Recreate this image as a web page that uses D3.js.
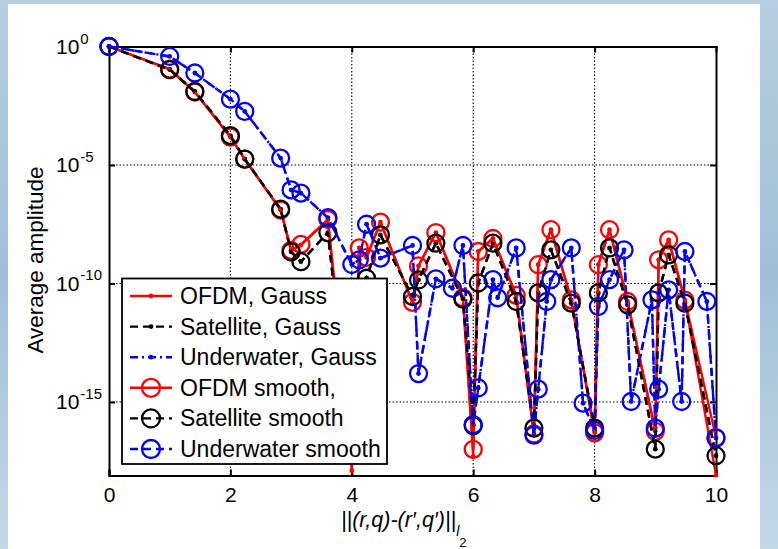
<!DOCTYPE html>
<html><head><meta charset="utf-8">
<script src="https://cdn.jsdelivr.net/npm/d3@7"></script>
<style>body{margin:0;padding:0;overflow:hidden;background:#fff}</style>
</head><body>
<script>
// ---------- DATA ----------
const xTicks = [0, 2, 4, 6, 8, 10];
const yTicks = [1, 1e-5, 1e-10, 1e-15];
const yTickExp = ["0", "-5", "-10", "-15"];
const legendLabels = ["OFDM, Gauss", "Satellite, Gauss", "Underwater, Gauss", "OFDM smooth,", "Satellite smooth", "Underwater smooth"];

// distances used by OFDM / Satellite curves
const xRB = [0, 1, 1.414, 2, 2.236, 2.828, 3, 3.162, 3.606, 4, 4.123, 4.243, 4.472, 5, 5.099, 5.385, 5.831, 6, 6.083, 6.325, 6.708, 7, 7.071, 7.280, 7.616, 8, 8.062, 8.246, 8.544, 9, 9.055, 9.220, 9.487, 10];
// distances used by Underwater curves
const xUW = [0, 1, 1.414, 2, 2.236, 2.828, 3, 3.162, 3.606, 4, 4.123, 4.243, 4.472, 5, 5.099, 5.385, 5.657, 5.831, 6, 6.083, 6.325, 6.403, 6.708, 7, 7.071, 7.211, 7.280, 7.616, 7.810, 8, 8.062, 8.246, 8.485, 8.602, 8.944, 9, 9.055, 9.220, 9.434, 9.487, 9.849, 10];

const ofdmGauss = [1, 1.12e-1, 1.2e-2, 1.51e-4, 1.78e-5, 1.26e-7, 2.5e-9, 4.2e-9, 5.0e-8, 1.26e-18, 3.16e-9, 1.26e-9, 3.9e-8, 1.6e-11, 5.5e-10, 1.41e-8, 2.5e-11, 5e-18, 2.24e-9, 7.9e-9, 3.16e-11, 4.47e-17, 6.2e-10, 1.86e-8, 2.04e-11, 5e-17, 6.2e-10, 1.86e-8, 1.74e-11, 5.75e-17, 1e-9, 6.9e-9, 2.0e-11, 8.0e-19];
const satGauss = [1, 1.05e-1, 1.26e-2, 1.74e-4, 1.78e-5, 1.38e-7, 2.14e-9, 8.3e-10, 1.41e-8, 1e-17, 6.3e-11, 1.66e-10, 1.12e-8, 2.82e-11, 1.41e-10, 5e-9, 2.19e-11, 1e-16, 1.05e-10, 5e-9, 1.74e-11, 7.9e-17, 4e-11, 2.63e-9, 1.48e-11, 7.9e-17, 4e-11, 3.16e-9, 1.26e-11, 1.02e-17, 4e-11, 1.62e-9, 1.48e-11, 5.4e-18];
const uwGauss = [1, 3.8e-1, 7.6e-2, 6.0e-3, 1.82e-3, 1.95e-5, 8.9e-7, 6.5e-7, 6.0e-8, 6.3e-10, 1e-9, 3.16e-8, 1.17e-9, 4e-9, 1.58e-14, 1.58e-10, 6.3e-11, 4e-9, 1.1e-16, 3.9e-15, 1.45e-10, 2.5e-11, 3.16e-9, 4e-17, 3.47e-15, 1.74e-11, 1.45e-10, 3.16e-9, 8.9e-16, 6.3e-17, 1.07e-11, 1.45e-10, 2.63e-9, 1.05e-15, 2.04e-11, 7.9e-17, 3.47e-15, 5.4e-11, 1.05e-15, 2.24e-9, 1.74e-11, 3.0e-17];

const ofdmSmooth = [1, 1.12e-1, 1.2e-2, 1.51e-4, 1.78e-5, 1.26e-7, 2.5e-9, 4.47e-9, 5.0e-8, 1.6e-17, 3.16e-9, 1.26e-9, 3.9e-8, 1.6e-11, 5.5e-10, 1.41e-8, 2.5e-11, 1e-17, 2.24e-9, 7.9e-9, 3.16e-11, 4.47e-17, 6.2e-10, 1.86e-8, 2.04e-11, 5e-17, 6.2e-10, 1.86e-8, 1.74e-11, 5.75e-17, 1e-9, 6.9e-9, 2.0e-11, 3.16e-17];
const satSmooth = [1, 1.05e-1, 1.26e-2, 1.74e-4, 1.78e-5, 1.38e-7, 2.14e-9, 8.3e-10, 1.41e-8, 1e-17, 6.3e-11, 1.66e-10, 1.12e-8, 2.82e-11, 1.41e-10, 5e-9, 2.19e-11, 1e-16, 1.05e-10, 5e-9, 1.74e-11, 7.9e-17, 4e-11, 2.63e-9, 1.48e-11, 7.9e-17, 4e-11, 3.16e-9, 1.26e-11, 1.02e-17, 4e-11, 1.62e-9, 1.48e-11, 5.4e-18];
const uwSmooth = [1, 3.8e-1, 7.6e-2, 6.0e-3, 1.82e-3, 1.95e-5, 8.9e-7, 6.5e-7, 6.0e-8, 6.3e-10, 1e-9, 3.16e-8, 1.17e-9, 4e-9, 1.58e-14, 1.58e-10, 6.3e-11, 4e-9, 1.1e-16, 3.9e-15, 1.45e-10, 2.5e-11, 3.16e-9, 4e-17, 3.47e-15, 1.74e-11, 1.45e-10, 3.16e-9, 8.9e-16, 6.3e-17, 1.07e-11, 1.45e-10, 2.63e-9, 1.05e-15, 2.04e-11, 7.9e-17, 3.47e-15, 5.4e-11, 1.05e-15, 2.24e-9, 1.74e-11, 3.0e-17];

// ---------- STYLE / LAYOUT ----------
const W = 778, H = 549;
const M = {left: 109, right: 716, top: 46.5, bottom: 475.5};
const RED = "#ff0000", BLACK = "#000000", BLUE = "#0000ff";
const series = [
  {name: legendLabels[0], x: xRB, y: ofdmGauss, color: RED, dash: null, marker: "dot"},
  {name: legendLabels[1], x: xRB, y: satGauss, color: BLACK, dash: "8,5", marker: "dot"},
  {name: legendLabels[2], x: xUW, y: uwGauss, color: BLUE, dash: "8,4,2,4", marker: "dot"},
  {name: legendLabels[3], x: xRB, y: ofdmSmooth, color: RED, dash: null, marker: "circle"},
  {name: legendLabels[4], x: xRB, y: satSmooth, color: BLACK, dash: "8,5", marker: "circle"},
  {name: legendLabels[5], x: xUW, y: uwSmooth, color: BLUE, dash: "8,5", marker: "circle"}
];

const svg = d3.select("body").append("svg").attr("width", W).attr("height", H)
  .style("font-family", "'Liberation Sans', Arial, Helvetica, sans-serif");

// slide background
const defs = svg.append("defs");
const g1 = defs.append("linearGradient").attr("id", "bg").attr("x1", 0).attr("y1", 0).attr("x2", 0).attr("y2", 1);
g1.append("stop").attr("offset", "0%").attr("stop-color", "#b7cde0");
g1.append("stop").attr("offset", "50%").attr("stop-color", "#a3bfd8");
g1.append("stop").attr("offset", "100%").attr("stop-color", "#c3d6e6");
svg.append("rect").attr("width", W).attr("height", H).attr("fill", "url(#bg)");
svg.append("rect").attr("x", 8).attr("y", 4).attr("width", 752).attr("height", H - 4).attr("fill", "#ffffff");

defs.append("clipPath").attr("id", "plotclip").append("rect")
  .attr("x", M.left - 10).attr("y", M.top - 10).attr("width", M.right - M.left + 20).attr("height", M.bottom - M.top + 12);

const x = d3.scaleLinear().domain([0, 10]).range([M.left, M.right]);
const y = d3.scaleLog().domain([7.9e-19, 1]).range([M.bottom, M.top]);

// grid
const grid = svg.append("g").attr("stroke", "#000").attr("stroke-width", 1.1).attr("stroke-dasharray", "1.5,2");
grid.selectAll("line.gx").data(xTicks.filter(d => d > 0 && d < 10)).join("line")
  .attr("x1", d => x(d)).attr("x2", d => x(d)).attr("y1", M.top).attr("y2", M.bottom);
grid.selectAll("line.gy").data(yTicks.filter(d => d < 1)).join("line")
  .attr("y1", d => y(d)).attr("y2", d => y(d)).attr("x1", M.left).attr("x2", M.right);

// axes with inner ticks
const axB = d3.axisBottom(x).tickValues(xTicks).tickSize(-6).tickPadding(12).tickFormat(d3.format("d"));
const axT = d3.axisTop(x).tickValues(xTicks).tickSize(-6).tickFormat("");
const axL = d3.axisLeft(y).tickValues(yTicks).tickSize(-6).tickFormat("");
const axR = d3.axisRight(y).tickValues(yTicks).tickSize(-6).tickFormat("");
function styleAxis(g) {
  g.select(".domain").attr("stroke", "#000").attr("stroke-width", 2);
  g.selectAll(".tick line").attr("stroke", "#000").attr("stroke-width", 2);
}
const gB = svg.append("g").attr("transform", `translate(0,${M.bottom})`).call(axB).call(styleAxis);
gB.selectAll(".tick text").attr("font-size", 21).attr("fill", "#000").attr("font-family", "'Liberation Sans', Arial, sans-serif");
svg.append("g").attr("transform", `translate(0,${M.top})`).call(axT).call(styleAxis);
svg.append("g").attr("transform", `translate(${M.left},0)`).call(axL).call(styleAxis);
svg.append("g").attr("transform", `translate(${M.right},0)`).call(axR).call(styleAxis);
svg.selectAll(".domain").attr("d", function() { return d3.select(this).attr("d").replace(/V-?6/g, "V0").replace(/H-?6/g, "H0"); });

// y tick labels 10^k
const yl = svg.append("g");
yTicks.forEach((v, i) => {
  const t = yl.append("text").attr("x", 56).attr("y", y(v) + 7.5).attr("font-size", 21).attr("fill", "#000");
  t.append("tspan").text("10");
  t.append("tspan").attr("dx", 1).attr("dy", -10.5).attr("font-size", 15).text(yTickExp[i]);
});

// series
const plot = svg.append("g").attr("clip-path", "url(#plotclip)");
const line = d3.line().x(d => x(d[0])).y(d => y(d[1]));
series.forEach(s => {
  const pts = s.x.map((xv, i) => [xv, s.y[i]]);
  const g = plot.append("g");
  g.append("path").attr("d", line(pts)).attr("fill", "none").attr("stroke", s.color)
    .attr("stroke-width", 2.4).attr("stroke-dasharray", s.dash).attr("stroke-linejoin", "round");
  if (s.marker === "dot") {
    g.selectAll("circle").data(pts).join("circle").attr("cx", d => x(d[0])).attr("cy", d => y(d[1]))
      .attr("r", 2.4).attr("fill", s.color);
  } else {
    g.selectAll("circle").data(pts).join("circle").attr("cx", d => x(d[0])).attr("cy", d => y(d[1]))
      .attr("r", 8.5).attr("fill", "none").attr("stroke", s.color).attr("stroke-width", 2.3);
  }
});

// legend
const lg = svg.append("g");
lg.append("rect").attr("x", 122).attr("y", 278.5).attr("width", 265).attr("height", 185.5)
  .attr("fill", "#fff").attr("stroke", "#000").attr("stroke-width", 1.8);
series.forEach((s, i) => {
  const cy = 296 + i * 30.6;
  lg.append("line").attr("x1", 130).attr("x2", 172).attr("y1", cy).attr("y2", cy)
    .attr("stroke", s.color).attr("stroke-width", 2.4).attr("stroke-dasharray", s.dash);
  if (s.marker === "dot") lg.append("circle").attr("cx", 151).attr("cy", cy).attr("r", 2.4).attr("fill", s.color);
  else lg.append("circle").attr("cx", 151).attr("cy", cy).attr("r", 9).attr("fill", "none")
    .attr("stroke", s.color).attr("stroke-width", 2.3);
  lg.append("text").attr("x", 180).attr("y", cy + 8).attr("font-size", 23).attr("fill", "#000").text(s.name);
});

// axis titles
svg.append("text").attr("transform", "translate(43,260) rotate(-90)").attr("text-anchor", "middle")
  .attr("font-size", 22.5).attr("fill", "#000").text("Average amplitude");
const xt = svg.append("text").attr("x", 341).attr("y", 527).attr("font-size", 21.5).attr("fill", "#000").attr("font-style", "italic");
xt.append("tspan").text("||(r,q)-(r\u2032,q\u2032)||");
xt.append("tspan").attr("dy", 9).attr("font-size", 14).text("l");
xt.append("tspan").attr("dy", 11).attr("font-size", 13).attr("font-style", "normal").text("2");
</script>
</body></html>
